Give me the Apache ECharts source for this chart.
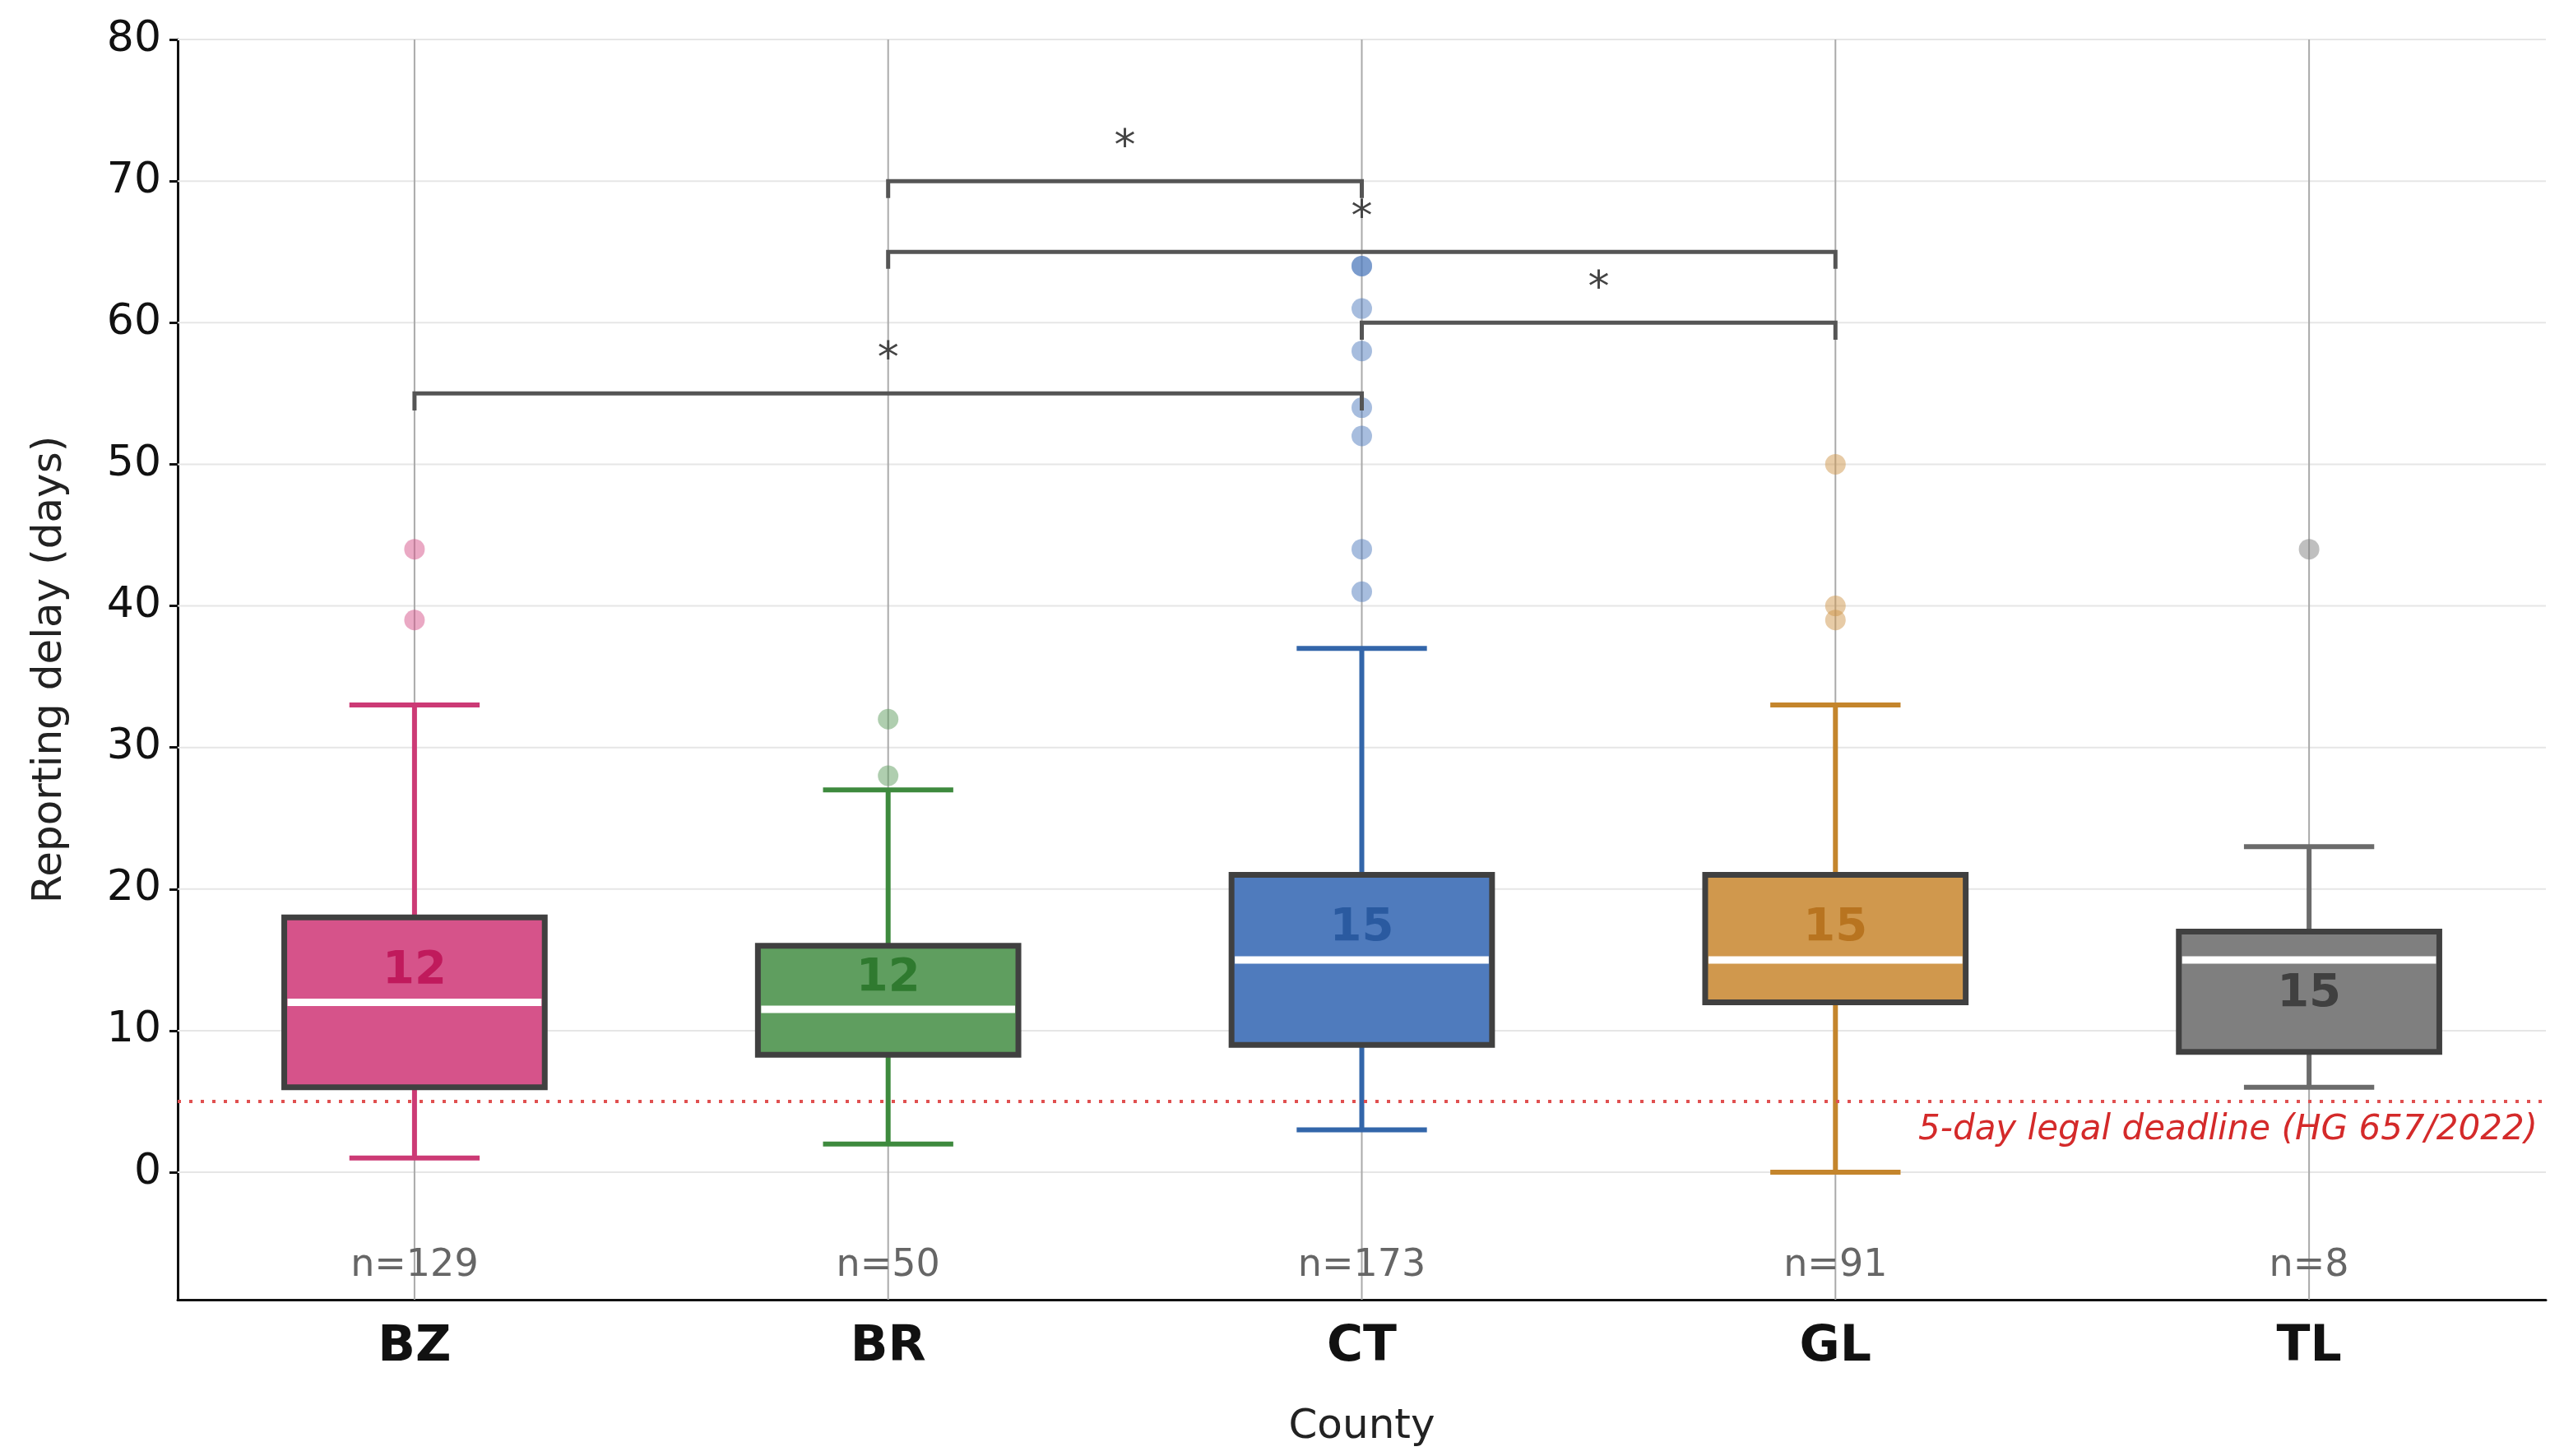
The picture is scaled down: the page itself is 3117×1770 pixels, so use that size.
<!DOCTYPE html>
<html>
<head>
<meta charset="utf-8">
<script src="https://cdn.jsdelivr.net/npm/echarts@6/dist/echarts.min.js"></script>
<style>html,body{margin:0;padding:0;background:#fff}#c{width:3117px;height:1770px}</style>
</head>
<body>
<div id="c"></div>
<script>
// counties and box stats: [low whisker, q1, median, q3, high whisker]
const counties = ['BZ', 'BR', 'CT', 'GL', 'TL'];
const boxStats = [
    [1, 6, 12, 18, 33],
    [2, 8.3, 11.5, 16, 27],
    [3, 9, 15, 21, 37],
    [0, 12, 15, 21, 33],
    [6, 8.5, 15, 17, 23]
];
const outliers = [
    [39, 44],
    [28, 32],
    [41, 44, 52, 54, 58, 61, 64, 64],
    [39, 40, 50],
    [44]
];
const counts = [129, 50, 173, 91, 8];
const fills = ['#d6538a', '#5f9e5f', '#4f7bbd', '#d0984d', '#7f7f7f'];
const lineColors = ['#cc3a75', '#3e8a3e', '#3366aa', '#c4852c', '#6b6b6b'];
const labelColors = ['#c01a5c', '#2f7a2f', '#2a5aa0', '#b87420', '#404040'];
const labelBelow = [false, false, false, false, true];
// significance brackets: [from, to, y]
const brackets = [[0, 2, 55], [1, 2, 70], [1, 3, 65], [2, 3, 60]];
const yTicks = [0, 10, 20, 30, 40, 50, 60, 70, 80];
const yMin = -9, yMax = 80;

let chart = echarts.init(document.getElementById('c'));
const font = 'DejaVu Sans';

let boxData = boxStats.map((s, i) => [i].concat(s));
let outlierData = [];
outliers.forEach((arr, i) => arr.forEach(v => outlierData.push({ value: [i, v], itemStyle: { color: fills[i] } })));

let option = {
    animation: false,
    textStyle: { fontFamily: font },
    grid: { left: 216, right: 22, top: 48, bottom: 190 },
    xAxis: {
        type: 'category', data: counties, name: 'County', nameLocation: 'middle', nameGap: 130,
        nameTextStyle: { fontSize: 50, color: '#222' },
        axisLine: { onZero: false, lineStyle: { color: '#111', width: 3 } },
        axisTick: { alignWithLabel: true, length: 10, lineStyle: { width: 3, color: '#111' } },
        axisLabel: { fontSize: 60, fontWeight: 'bold', color: '#111', margin: 28 },
        splitLine: { show: false }
    },
    yAxis: {
        type: 'value', min: yMin, max: yMax, name: 'Reporting delay (days)', nameLocation: 'middle', nameGap: 130,
        nameTextStyle: { fontSize: 50, color: '#222' },
        axisLine: { show: true, lineStyle: { color: '#111', width: 3 } },
        axisTick: { show: true, customValues: yTicks, length: 10, lineStyle: { width: 3, color: '#111' } },
        axisLabel: { customValues: yTicks, fontSize: 52, color: '#111', margin: 20 },
        splitLine: { show: false }
    },
    series: [
        {
            type: 'custom', z: 1, silent: true, data: yTicks.map(v => [0, v]),
            renderItem: (params, api) => {
                let y = api.coord([0, api.value(1)])[1];
                let cs = params.coordSys;
                return { type: 'line', shape: { x1: cs.x, y1: y, x2: cs.x + cs.width, y2: y }, style: { stroke: '#e6e6e6', lineWidth: 2 } };
            }
        },
        {
            type: 'custom', z: 2, silent: true, data: counties.map((c, i) => [i]),
            renderItem: (params, api) => {
                let x = api.coord([api.value(0), 0])[0];
                let cs = params.coordSys;
                return { type: 'line', shape: { x1: x, y1: cs.y, x2: x, y2: cs.y + cs.height }, style: { stroke: '#aaaaaa', lineWidth: 2 } };
            }
        },
        {
            type: 'line', data: [], silent: true, z: 3,
            markLine: {
                symbol: 'none', silent: true,
                lineStyle: { color: '#e05050', width: 4, type: [4, 10] },
                label: {
                    position: 'insideEndBottom', formatter: '5-day legal deadline (HG 657/2022)',
                    color: '#d42a2a', fontSize: 42, fontStyle: 'italic', distance: [10, 14]
                },
                data: [{ yAxis: 5 }]
            }
        },
        {
            type: 'custom', z: 4, data: boxData,
            renderItem: (params, api) => {
                let i = api.value(0);
                let x = api.coord([i, 0])[0];
                let bw = api.size([1, 0])[0] * 0.55;
                let y = k => api.coord([i, api.value(k)])[1];
                let cap = bw * 0.5;
                let lc = lineColors[i];
                let below = labelBelow[i];
                return {
                    type: 'group', children: [
                        { type: 'line', shape: { x1: x, y1: y(1), x2: x, y2: y(5) }, style: { stroke: lc, lineWidth: 6 } },
                        { type: 'line', shape: { x1: x - cap / 2, y1: y(1), x2: x + cap / 2, y2: y(1) }, style: { stroke: lc, lineWidth: 6 } },
                        { type: 'line', shape: { x1: x - cap / 2, y1: y(5), x2: x + cap / 2, y2: y(5) }, style: { stroke: lc, lineWidth: 6 } },
                        { type: 'rect', shape: { x: x - bw / 2, y: y(4), width: bw, height: y(2) - y(4) }, style: { fill: fills[i], stroke: '#404040', lineWidth: 7 } },
                        { type: 'line', shape: { x1: x - bw / 2 + 4, y1: y(3), x2: x + bw / 2 - 4, y2: y(3) }, style: { stroke: '#fff', lineWidth: 9 } },
                        { type: 'text', style: { x: x, y: below ? y(3) + 14 : y(3) - 10, text: String(Math.round(api.value(3))), fill: labelColors[i], font: 'bold 56px DejaVu Sans', textAlign: 'center', textVerticalAlign: below ? 'top' : 'bottom' } }
                    ]
                };
            }
        },
        {
            type: 'scatter', z: 5, data: outlierData, symbolSize: 25,
            itemStyle: { opacity: 0.5 }
        },
        {
            type: 'custom', z: 6, data: brackets,
            renderItem: (params, api) => {
                let p1 = api.coord([api.value(0), api.value(2)]);
                let p2 = api.coord([api.value(1), api.value(2)]);
                let tick = api.size([0, 1.2])[1];
                let st = api.coord([0, api.value(2) + 2.3])[1];
                return {
                    type: 'group', children: [
                        { type: 'polyline', shape: { points: [[p1[0], p1[1] + tick], p1, p2, [p2[0], p2[1] + tick]] }, style: { stroke: '#555', lineWidth: 5, fill: null } },
                        { type: 'text', style: { x: (p1[0] + p2[0]) / 2, y: st, text: '*', fill: '#444', font: '52px DejaVu Sans', textAlign: 'center', textVerticalAlign: 'middle' } }
                    ]
                };
            }
        },
        {
            type: 'custom', z: 6, data: counts.map((n, i) => [i, -6.6, n]),
            renderItem: (params, api) => {
                let p = api.coord([api.value(0), api.value(1)]);
                return { type: 'text', style: { x: p[0], y: p[1], text: 'n=' + api.value(2), fill: '#666', font: '46px DejaVu Sans', textAlign: 'center', textVerticalAlign: 'middle' } };
            }
        }
    ]
};

chart.setOption(option);
</script>
</body>
</html>
